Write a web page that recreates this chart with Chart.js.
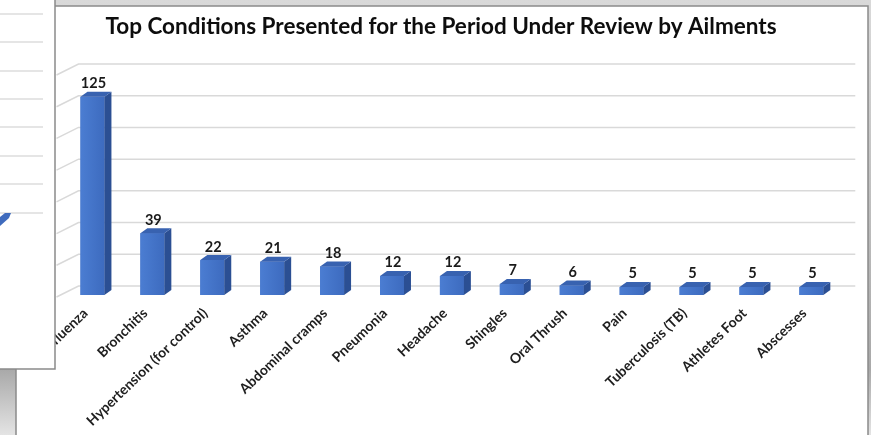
<!DOCTYPE html>
<html>
<head>
<meta charset="utf-8">
<script src="https://cdn.jsdelivr.net/npm/chart.js@4"></script>
<style>
  html, body { margin: 0; padding: 0; background: #d6d6d6; }
  canvas { display: block; }
</style>
</head>
<body>
<canvas id="ailments-chart" width="871" height="435"></canvas>
<script>
// Chart data
const categories = ['Influenza', 'Bronchitis', 'Hypertension (for control)', 'Asthma', 'Abdominal cramps',
    'Pneumonia', 'Headache', 'Shingles', 'Oral Thrush', 'Pain', 'Tuberculosis (TB)', 'Athletes Foot', 'Abscesses'];
const cases = [125, 39, 22, 21, 18, 12, 12, 7, 6, 5, 5, 5, 5];
const gridTicks = [0, 20, 40, 60, 80, 100, 120, 140];
const chartTitle = 'Top Conditions Presented for the Period Under Review by Ailments';

const FONT = 'Lato, "Open Sans", sans-serif';
const DEPTH_X = 7, DEPTH_Y = 5;     // bar depth
const WALL_X = 16, WALL_Y = 9;      // back wall offset

// Backgrounds, panel frame and title
const panelPlugin = {
    id: 'panel',
    beforeDraw(chart) {
        const ctx = chart.ctx;
        const W = chart.width, H = chart.height;
        ctx.save();
        const bg = ctx.createLinearGradient(0, 0, 0, H);
        bg.addColorStop(0, '#d9d9d9');
        bg.addColorStop(0.85, '#a9a9a9');
        bg.addColorStop(1, '#e4e4e4');
        ctx.fillStyle = bg;
        ctx.fillRect(0, 0, W, H);
        ctx.fillStyle = '#ffffff';
        ctx.fillRect(16, 6, 852, H);
        ctx.strokeStyle = '#8a8a8a';
        ctx.lineWidth = 1.5;
        ctx.strokeRect(16, 6, 852, H + 10);

        ctx.fillStyle = '#0d0d0d';
        ctx.font = 'bold 22.5px ' + FONT;
        ctx.textAlign = 'center';
        ctx.textBaseline = 'middle';
        ctx.fillText(chartTitle, 441, 27);
        ctx.restore();
    },
    afterDraw(chart) {
        // corner of the neighbouring chart window covering the left edge
        const ctx = chart.ctx;
        ctx.save();
        ctx.fillStyle = '#ffffff';
        ctx.fillRect(0, 0, 55, 369);
        ctx.strokeStyle = '#8a8a8a';
        ctx.lineWidth = 1.5;
        ctx.beginPath();
        ctx.moveTo(55, 0);
        ctx.lineTo(55, 369);
        ctx.lineTo(0, 369);
        ctx.stroke();
        ctx.strokeStyle = '#dcdcdc';
        ctx.lineWidth = 1.5;
        [14, 42, 71, 99, 127, 156, 184, 213].forEach(y => {
            ctx.beginPath();
            ctx.moveTo(0, y);
            ctx.lineTo(43, y);
            ctx.stroke();
        });
        ctx.fillStyle = '#3f6bbd';
        ctx.beginPath();
        ctx.moveTo(0, 217);
        ctx.lineTo(5, 213);
        ctx.lineTo(11, 213);
        ctx.lineTo(9, 218);
        ctx.lineTo(0, 226);
        ctx.closePath();
        ctx.fill();
        ctx.restore();
    }
};

// Back wall gridlines with the perspective side wall
const wallPlugin = {
    id: 'wall',
    beforeDatasetsDraw(chart) {
        const ctx = chart.ctx;
        const y = chart.scales.y;
        const area = chart.chartArea;
        ctx.save();
        ctx.strokeStyle = '#d9d9d9';
        ctx.lineWidth = 1.5;
        gridTicks.forEach(v => {
            const py = y.getPixelForValue(v) - WALL_Y;
            ctx.beginPath();
            ctx.moveTo(area.left - 6, py + 11);
            ctx.lineTo(area.left + WALL_X, py);
            ctx.lineTo(area.right + 14, py);
            ctx.stroke();
        });
        ctx.restore();
    }
};

// Top and side faces of the 3D bars, plus value labels
const bar3dPlugin = {
    id: 'bar3d',
    afterDatasetsDraw(chart) {
        const ctx = chart.ctx;
        const meta = chart.getDatasetMeta(0);
        ctx.save();
        meta.data.forEach((bar, i) => {
            const p = bar.getProps(['x', 'y', 'base', 'width'], true);
            const l = p.x - p.width / 2, r = p.x + p.width / 2;
            // front face shading
            const g = ctx.createLinearGradient(l, 0, r, 0);
            g.addColorStop(0, '#4b7dd2');
            g.addColorStop(1, '#3d6bbf');
            ctx.fillStyle = g;
            ctx.fillRect(l, p.y, p.width, p.base - p.y);
            // side face
            ctx.fillStyle = '#2b4f93';
            ctx.beginPath();
            ctx.moveTo(r, p.y);
            ctx.lineTo(r + DEPTH_X, p.y - DEPTH_Y);
            ctx.lineTo(r + DEPTH_X, p.base - DEPTH_Y);
            ctx.lineTo(r, p.base);
            ctx.closePath();
            ctx.fill();
            // top face
            ctx.fillStyle = '#3862b0';
            ctx.beginPath();
            ctx.moveTo(l, p.y);
            ctx.lineTo(l + DEPTH_X, p.y - DEPTH_Y);
            ctx.lineTo(r + DEPTH_X, p.y - DEPTH_Y);
            ctx.lineTo(r, p.y);
            ctx.closePath();
            ctx.fill();

            ctx.fillStyle = '#1a1a1a';
            ctx.font = 'bold 14.5px ' + FONT;
            ctx.textAlign = 'center';
            ctx.textBaseline = 'bottom';
            ctx.fillText(String(cases[i]), p.x + 1, p.y - DEPTH_Y - 1);
        });
        ctx.restore();
    }
};

const ctx = document.getElementById('ailments-chart');
const chart = new Chart(ctx, {
    type: 'bar',
    data: {
        labels: categories,
        datasets: [{
            label: 'Cases',
            data: cases,
            backgroundColor: '#4472c4',
            borderWidth: 0,
            barPercentage: 0.4,
            categoryPercentage: 1.0
        }]
    },
    options: {
        responsive: false,
        animation: false,
        devicePixelRatio: 1,
        layout: {
            padding: { left: 62.5, right: 29.7, top: 73, bottom: 0 }
        },
        plugins: {
            legend: { display: false },
            title: { display: false },
            tooltip: { enabled: false }
        },
        scales: {
            x: {
                grid: { display: false, drawTicks: false },
                border: { display: false },
                ticks: {
                    autoSkip: false,
                    maxRotation: 44,
                    minRotation: 44,
                    padding: 10,
                    labelOffset: -7,
                    color: '#1e1e1e',
                    font: { family: FONT, size: 14, weight: 'bold' }
                },
                afterFit(scale) {
                    scale.height = 140;
                }
            },
            y: {
                display: false,
                min: 0,
                max: 140
            }
        }
    },
    plugins: [panelPlugin, wallPlugin, bar3dPlugin]
});
</script>
</body>
</html>
